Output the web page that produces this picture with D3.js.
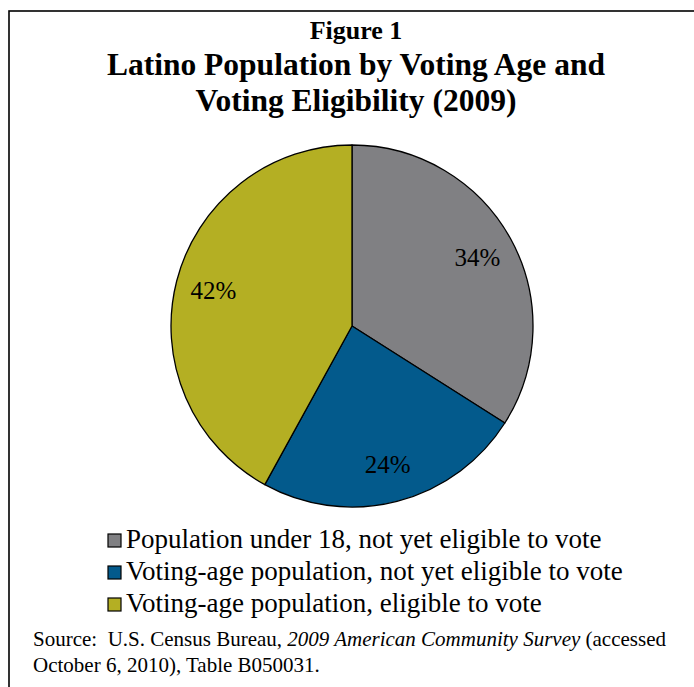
<!DOCTYPE html>
<html>
<head>
<meta charset="utf-8">
<script src="https://cdn.jsdelivr.net/npm/d3@7"></script>
<style>
  html, body { margin: 0; padding: 0; background: #fff; }
  svg { display: block; }
  text { font-family: "Liberation Serif", "Times New Roman", serif; fill: #000; }
</style>
</head>
<body>
<svg id="chart" width="694" height="687"></svg>
<script>
const categories = [
  "Population under 18, not yet eligible to vote",
  "Voting-age population, not yet eligible to vote",
  "Voting-age population, eligible to vote"
];
const values = [34, 24, 42];
const colors = ["#808083", "#035A8C", "#B4AF23"];
const titleLines = ["Figure 1", "Latino Population by Voting Age and", "Voting Eligibility (2009)"];
const sourceLine1 = ["Source:\u00A0 U.S. Census Bureau, ", "2009 American Community Survey", " (accessed"];
const sourceLine2 = "October 6, 2010), Table B050031.";

const svg = d3.select("#chart");
const W = 694, H = 687;

// frame (cropped on right/bottom)
svg.append("rect")
  .attr("x", 9).attr("y", 11)
  .attr("width", W + 10).attr("height", H + 10)
  .attr("fill", "#fff").attr("stroke", "#000").attr("stroke-width", 1.6);

// title
const cx = 352;
svg.append("text").attr("x", cx + 4).attr("y", 39)
  .attr("text-anchor", "middle").attr("font-weight", "bold").attr("font-size", 26)
  .text(titleLines[0]);
svg.append("text").attr("x", cx + 4).attr("y", 75)
  .attr("text-anchor", "middle").attr("font-weight", "bold").attr("font-size", 31.5)
  .text(titleLines[1]);
svg.append("text").attr("x", cx + 4).attr("y", 111)
  .attr("text-anchor", "middle").attr("font-weight", "bold").attr("font-size", 31.5)
  .text(titleLines[2]);

// pie
const R = 181;
const g = svg.append("g").attr("transform", `translate(${cx},326)`);
const pie = d3.pie().sort(null).value(d => d.v);
const data = values.map((v, i) => ({ v, c: colors[i], name: categories[i] }));
const arcs = pie(data);
const arc = d3.arc().innerRadius(0).outerRadius(R);
const labelArc = d3.arc().innerRadius(143).outerRadius(143);

g.selectAll("path.slice").data(arcs).join("path")
  .attr("class", "slice")
  .attr("d", arc)
  .attr("fill", d => d.data.c)
  .attr("stroke", "#000")
  .attr("stroke-width", 1.3)
  .attr("stroke-linejoin", "round");

g.selectAll("text.lbl").data(arcs).join("text")
  .attr("class", "lbl")
  .attr("transform", d => `translate(${labelArc.centroid(d)})`)
  .attr("text-anchor", "middle")
  .attr("dy", "0.35em")
  .attr("font-size", 25)
  .text(d => d3.format(".0f")(d.data.v) + "%");

// legend
const legend = svg.append("g");
const ly = d3.scaleBand().domain(categories).range([526, 622]);
const items = legend.selectAll("g").data(data).join("g")
  .attr("transform", d => `translate(108,${ly(d.name)})`);
items.append("rect")
  .attr("x", 0).attr("y", 8).attr("width", 13).attr("height", 13)
  .attr("fill", d => d.c).attr("stroke", "#000").attr("stroke-width", 1.2);
items.append("text")
  .attr("x", 18).attr("y", 22)
  .attr("font-size", 27)
  .text(d => d.name);

// source
const s1 = svg.append("text").attr("x", 33).attr("y", 646).attr("font-size", 21);
s1.append("tspan").text(sourceLine1[0]);
s1.append("tspan").attr("font-style", "italic").text(sourceLine1[1]);
s1.append("tspan").text(sourceLine1[2]);
svg.append("text").attr("x", 33).attr("y", 672).attr("font-size", 21).text(sourceLine2);
</script>
</body>
</html>
